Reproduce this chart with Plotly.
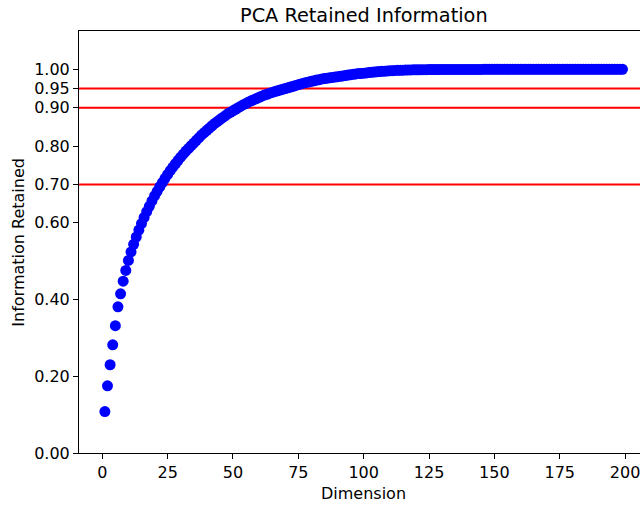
import plotly.graph_objects as go

dimensions = list(range(1, 200))
retained = [
    0.108, 0.175, 0.230, 0.282, 0.332, 0.381, 0.415, 0.448, 0.476, 0.502,
    0.524, 0.544, 0.563, 0.581, 0.598, 0.614, 0.629, 0.643, 0.657, 0.670,
    0.682, 0.694, 0.705, 0.716, 0.726, 0.736, 0.745, 0.754, 0.763, 0.771,
    0.779, 0.787, 0.794, 0.801, 0.808, 0.815, 0.822, 0.829, 0.835, 0.841,
    0.847, 0.853, 0.859, 0.864, 0.869, 0.874, 0.879, 0.884, 0.888, 0.892,
    0.896, 0.900, 0.904, 0.908, 0.911, 0.915, 0.918, 0.921, 0.924, 0.927,
    0.930, 0.933, 0.935, 0.938, 0.940, 0.942, 0.944, 0.946, 0.948, 0.950,
    0.952, 0.954, 0.956, 0.958, 0.960, 0.962, 0.964, 0.966, 0.967, 0.969,
    0.970, 0.972, 0.973, 0.975, 0.976, 0.977, 0.978, 0.979, 0.980, 0.981,
    0.982, 0.983, 0.984, 0.985, 0.986, 0.987, 0.988, 0.989, 0.9895, 0.990,
    0.9908, 0.9916, 0.9923, 0.9930, 0.9937, 0.9943, 0.9949, 0.9954, 0.9959, 0.9963,
    0.9967, 0.9971, 0.9974, 0.9977, 0.9980, 0.9982, 0.9984, 0.9986, 0.9988, 0.9989,
    0.9990, 0.9991, 0.9992, 0.9993, 0.9994, 0.9995, 0.9995, 0.9996, 0.9996, 0.9997,
    0.9997, 0.9998, 0.9998, 0.9998, 0.9998, 0.9999, 0.9999, 0.9999, 0.9999, 0.9999,
    0.9999, 0.9999, 0.9999, 0.9999, 0.9999, 1.0, 1.0, 1.0, 1.0, 1.0,
    1.0, 1.0, 1.0, 1.0, 1.0, 1.0, 1.0, 1.0, 1.0, 1.0,
    1.0, 1.0, 1.0, 1.0, 1.0, 1.0, 1.0, 1.0, 1.0, 1.0,
    1.0, 1.0, 1.0, 1.0, 1.0, 1.0, 1.0, 1.0, 1.0, 1.0,
    1.0, 1.0, 1.0, 1.0, 1.0, 1.0, 1.0, 1.0, 1.0, 1.0,
    1.0, 1.0, 1.0, 1.0, 1.0, 1.0, 1.0, 1.0, 1.0,
]
thresholds = [0.7, 0.9, 0.95]
y_ticks = [0.0, 0.2, 0.4, 0.6, 0.7, 0.8, 0.9, 0.95, 1.0]
x_ticks = [0, 25, 50, 75, 100, 125, 150, 175, 200]

FONT = "DejaVu Sans"
TICK_SIZE = 16
LABEL_SIZE = 16
TITLE_SIZE = 19.3

fig = go.Figure()
fig.add_trace(go.Scatter(
    x=dimensions, y=retained, mode="markers",
    marker=dict(size=11, color="#0000ff", line=dict(width=0)),
    showlegend=False, cliponaxis=True,
))

for t in thresholds:
    fig.add_shape(type="line", xref="paper", x0=0, x1=1, yref="y", y0=t, y1=t,
                  line=dict(color="#ff0000", width=2), layer="below")

W, H = 640, 505
L, R, T, B = 79.3, 0, 30.7, 52
plot_w = W - L - R
axes_center = 363.8

fig.update_layout(
    width=W, height=H,
    margin=dict(l=L, r=R, t=T, b=B, pad=0),
    paper_bgcolor="white", plot_bgcolor="white",
    font=dict(family=FONT, size=TICK_SIZE, color="black"),
    xaxis=dict(
        range=[-8.9, 205.7], tickvals=x_ticks, ticktext=[str(v) for v in x_ticks],
        showgrid=False, zeroline=False, showline=True, linecolor="black", linewidth=1,
        mirror=True, ticks="outside", ticklen=5, tickwidth=1, tickcolor="black",
        tickfont=dict(family=FONT, size=TICK_SIZE, color="black"),
        ticklabeloverflow="allow",
    ),
    yaxis=dict(
        range=[0, 1.1], tickvals=y_ticks, ticktext=[f"{v:.2f}" for v in y_ticks],
        showgrid=False, zeroline=False, showline=True, linecolor="black", linewidth=1,
        ticks="outside", ticklen=5, tickwidth=1, tickcolor="black",
        tickfont=dict(family=FONT, size=TICK_SIZE, color="black"),
    ),
    annotations=[
        dict(text="PCA Retained Information", xref="paper", yref="paper",
             x=(axes_center - L) / plot_w, y=1 + (T - 15) / (H - T - B),
             xanchor="center", yanchor="middle", showarrow=False,
             font=dict(family=FONT, size=TITLE_SIZE, color="black")),
        dict(text="Dimension", xref="paper", yref="paper",
             x=(axes_center - L) / plot_w, y=-(494 - (H - B)) / (H - T - B),
             xanchor="center", yanchor="middle", showarrow=False,
             font=dict(family=FONT, size=LABEL_SIZE, color="black")),
        dict(text="Information Retained", xref="paper", yref="paper",
             x=-(L - 18) / plot_w, y=0.5, textangle=-90,
             xanchor="center", yanchor="middle", showarrow=False,
             font=dict(family=FONT, size=LABEL_SIZE, color="black")),
    ],
)

fig.write_html("out.html")
